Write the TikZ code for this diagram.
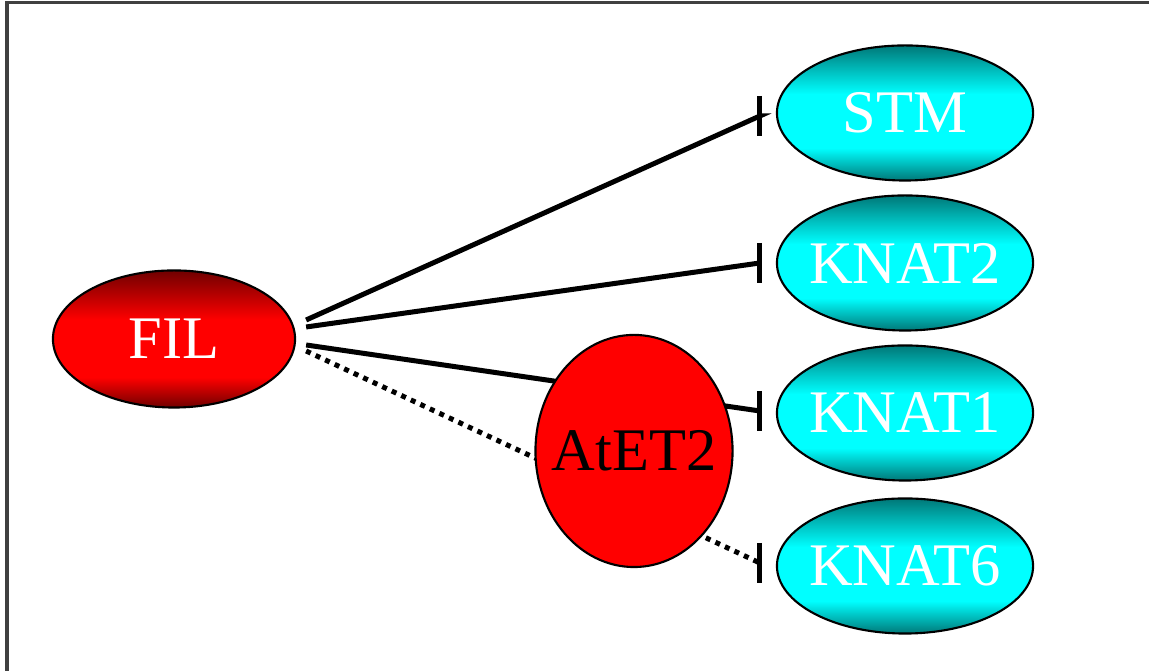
\documentclass[tikz,border=0pt]{standalone}
\usepackage{fontspec}
\setmainfont{Liberation Serif}
\usetikzlibrary{shapes.geometric,arrows.meta,backgrounds}

\definecolor{darkred}{RGB}{112,0,0}
\definecolor{darkteal}{RGB}{0,120,120}

% dark rim, bright band across the middle
\pgfdeclareverticalshading{redband}{100bp}{color(0bp)=(darkred); color(25bp)=(darkred); color(36bp)=(red); color(57bp)=(red); color(75bp)=(darkred); color(100bp)=(darkred)}
\pgfdeclareverticalshading{cyanband}{100bp}{color(0bp)=(darkteal); color(25bp)=(darkteal); color(37bp)=(cyan); color(57bp)=(cyan); color(75bp)=(darkteal); color(100bp)=(darkteal)}

% keep the label from widening the ellipse
\newcommand{\gene}[1]{\makebox[0pt]{#1}}

\begin{document}
\begin{tikzpicture}[x=0.01cm, y=0.01cm,
        gene/.style = {draw, ellipse, line width=0.6pt, inner sep=0pt, font=\fontsize{17.2}{20}\selectfont},
        regulator/.style = {gene, text=white, shade, shading=redband, minimum width=2.42cm, minimum height=1.37cm},
        target/.style = {gene, text=white, shade, shading=cyanband, minimum width=2.56cm, minimum height=1.35cm},
        inhibit/.style = {line width=0.05cm, -{Bar[width=0.4cm]}},
        weak/.style = {inhibit, dash pattern=on 0.05cm off 0.055cm}]
        \useasboundingbox (0, 0) rectangle (1149, 671);

        % frame
        \draw[black!75, line width=0.03cm] (7, 0) -- (7, 668) -- (1149, 668);

        \node[regulator] at (174, 332) (FIL) {\gene{FIL}};

        \node[target] at (905, 558) (STM) {\gene{STM}};
        \node[target] at (905, 408) (KNAT2) {\gene{KNAT2}};
        \node[target] at (905, 258) (KNAT1) {\gene{KNAT1}};
        \node[target] at (905, 105) (KNAT6) {\gene{KNAT6}};

        \node[gene, fill=red, minimum width=1.97cm, minimum height=2.32cm] at (634, 220) (AtET2) {\gene{AtET2}};

        % last tiny step is horizontal so the bars stand upright
        \begin{scope}[on background layer]
        \draw[inhibit] ([shift={(10, 19)}]FIL.east) -- ([shift={(-16, -3)}]STM.west) -- ([shift={(-14, -3)}]STM.west);
        \draw[inhibit] ([shift={(10, 12)}]FIL.east) -- ([shift={(-16, 0)}]KNAT2.west) -- ([shift={(-14, 0)}]KNAT2.west);
        \draw[inhibit] ([shift={(10, -6)}]FIL.east) -- ([shift={(-16, 2)}]KNAT1.west) -- ([shift={(-14, 2)}]KNAT1.west);
        \draw[weak] ([shift={(10, -12)}]FIL.east) -- ([shift={(-16, 3)}]KNAT6.west) -- ([shift={(-14, 3)}]KNAT6.west);
        \end{scope}
    \end{tikzpicture}
\end{document}
